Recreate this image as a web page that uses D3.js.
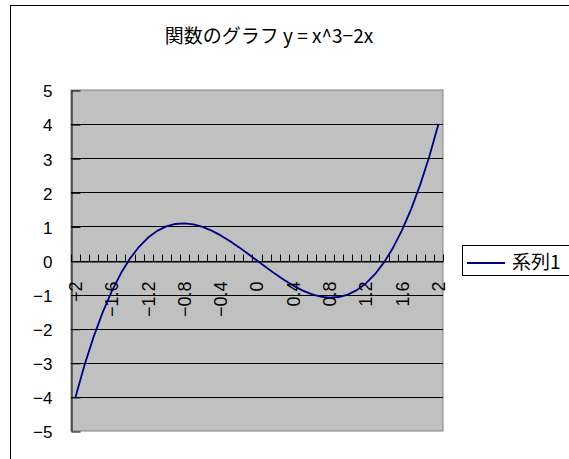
<!DOCTYPE html>
<html>
<head>
<meta charset="utf-8">
<script src="https://cdn.jsdelivr.net/npm/d3@7"></script>
<style>
  html, body { margin: 0; padding: 0; background: #ffffff; }
  svg { display: block; }
</style>
</head>
<body>
<svg id="chart" width="569" height="459"></svg>
<script>
// ---- data ----
const categories = ["-2","-1.9","-1.8","-1.7","-1.6","-1.5","-1.4","-1.3","-1.2","-1.1","-1",
  "-0.9","-0.8","-0.7","-0.6","-0.5","-0.4","-0.3","-0.2","-0.1","0",
  "0.1","0.2","0.3","0.4","0.5","0.6","0.7","0.8","0.9","1",
  "1.1","1.2","1.3","1.4","1.5","1.6","1.7","1.8","1.9","2"];
const series1 = [-4,-3.059,-2.232,-1.513,-0.896,-0.375,0.056,0.403,0.672,0.869,1,
  1.071,1.088,1.057,0.984,0.875,0.736,0.573,0.392,0.199,0,
  -0.199,-0.392,-0.573,-0.736,-0.875,-0.984,-1.057,-1.088,-1.071,-1,
  -0.869,-0.672,-0.403,-0.056,0.375,0.896,1.513,2.232,3.059,4];
const xTickLabels = ["-2","-1.6","-1.2","-0.8","-0.4","0","0.4","0.8","1.2","1.6","2"];
const yTicks = [-5,-4,-3,-2,-1,0,1,2,3,4,5];
const titleText = "関数のグラフ y = x^3−2x";
const seriesName = "系列1";

// ---- layout ----
const svg = d3.select("#chart");
const plot = {left: 71, right: 443, top: 90, bottom: 431};
const fmtMinus = s => String(s).replace("-", "−");

const x = d3.scaleBand().domain(categories).range([plot.left, plot.right]).padding(0);
const y = d3.scaleLinear().domain([-5, 5]).range([plot.bottom, plot.top]);
const cx = c => x(c) + x.bandwidth() / 2;

// chart area border
svg.append("rect").attr("x", 10.5).attr("y", 5.5).attr("width", 620).attr("height", 520)
  .attr("fill", "#ffffff").attr("stroke", "#000000").attr("stroke-width", 1);

// title
svg.append("text").attr("x", 269).attr("y", 43).attr("text-anchor", "middle")
  .attr("font-family", "'Noto Sans CJK JP', sans-serif").attr("font-size", 19)
  .attr("fill", "#000").text(titleText);

// plot area
svg.append("rect").attr("x", plot.left).attr("y", plot.top)
  .attr("width", plot.right - plot.left).attr("height", plot.bottom - plot.top)
  .attr("fill", "#c0c0c0").attr("stroke", "#808080").attr("stroke-width", 1);

// gridlines
svg.append("g").selectAll("line").data(yTicks.filter(v => v > -5 && v < 5)).join("line")
  .attr("x1", plot.left).attr("x2", plot.right)
  .attr("y1", d => Math.round(y(d)) + 0.5).attr("y2", d => Math.round(y(d)) + 0.5)
  .attr("stroke", "#000").attr("stroke-width", 1);

// y axis
const yAxis = d3.axisLeft(y).tickValues(yTicks).tickSizeInner(-9).tickSizeOuter(0)
  .tickPadding(19).tickFormat(d => fmtMinus(d));
const gy = svg.append("g").attr("transform", `translate(${plot.left + 0.5},0)`).call(yAxis);
gy.select(".domain").attr("stroke", "#000");
gy.selectAll(".tick line").attr("stroke", "#000").attr("transform", "translate(0,0.5)");
gy.selectAll(".tick text").attr("font-family", "'Liberation Sans', Arial, sans-serif")
  .attr("font-size", 17).attr("fill", "#000").attr("dy", "0.4em");

// x axis (at y = 0)
const y0 = Math.round(y(0)) + 0.5;
const xAxis = d3.axisBottom(x).tickValues(xTickLabels).tickSize(0).tickFormat(d => fmtMinus(d));
const gx = svg.append("g").attr("transform", `translate(0,${y0})`).call(xAxis);
gx.select(".domain").attr("stroke", "#000");
gx.selectAll(".tick text")
  .attr("font-family", "'Liberation Sans', Arial, sans-serif").attr("font-size", 18)
  .attr("fill", "#000").attr("text-anchor", "end")
  .attr("transform", "rotate(-90)").attr("x", -20).attr("y", 0).attr("dy", "0.36em");
// boundary tick marks (between categories)
const boundaries = categories.map(c => x(c)).concat([x.range()[1]]);
gx.append("g").selectAll("line").data(boundaries).join("line")
  .attr("x1", d => Math.round(d) + 0.5).attr("x2", d => Math.round(d) + 0.5)
  .attr("y1", 0).attr("y2", -7).attr("stroke", "#000").attr("stroke-width", 1);

// series line
const line = d3.line().x((d, i) => cx(categories[i])).y(d => y(d));
svg.append("path").datum(series1).attr("d", line)
  .attr("fill", "none").attr("stroke", "#000080").attr("stroke-width", 1.8)
  .attr("stroke-linejoin", "round");

// legend
const lg = svg.append("g");
lg.append("rect").attr("x", 462.5).attr("y", 245.5).attr("width", 130).attr("height", 30)
  .attr("fill", "#ffffff").attr("stroke", "#000").attr("stroke-width", 1);
lg.append("line").attr("x1", 467).attr("x2", 505).attr("y1", 263).attr("y2", 263)
  .attr("stroke", "#000080").attr("stroke-width", 1.8);
lg.append("text").attr("x", 512).attr("y", 262).attr("dy", "0.35em")
  .attr("font-family", "'Noto Sans CJK JP', sans-serif").attr("font-size", 19)
  .attr("fill", "#000").text(seriesName);
</script>
</body>
</html>
